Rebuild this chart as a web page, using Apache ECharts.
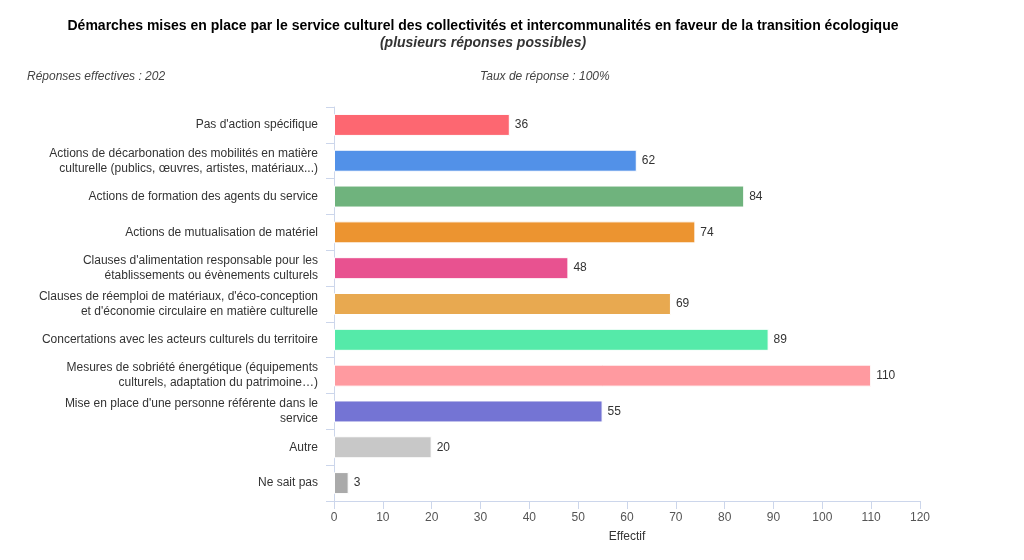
<!DOCTYPE html>
<html>
<head>
<meta charset="utf-8">
<script src="https://cdn.jsdelivr.net/npm/echarts@6/dist/echarts.min.js"></script>
<style>
  html, body { margin: 0; padding: 0; background: #fff; }
  #main { width: 1024px; height: 560px; }
</style>
</head>
<body>
<div id="main"></div>
<script>
// catégories (avec retours à la ligne comme sur le graphique)
var categories = [
    "Pas d'action spécifique",
    "Actions de décarbonation des mobilités en matière\nculturelle (publics, œuvres, artistes, matériaux...)",
    "Actions de formation des agents du service",
    "Actions de mutualisation de matériel",
    "Clauses d'alimentation responsable pour les\nétablissements ou évènements culturels",
    "Clauses de réemploi de matériaux, d'éco-conception\net d'économie circulaire en matière culturelle",
    "Concertations avec les acteurs culturels du territoire",
    "Mesures de sobriété énergétique (équipements\nculturels, adaptation du patrimoine…)",
    "Mise en place d'une personne référente dans le\nservice",
    "Autre",
    "Ne sait pas"
]
var effectifs = [36, 62, 84, 74, 48, 69, 89, 110, 55, 20, 3]
var couleurs = ['#fd6771', '#5291e8', '#6fb37d', '#ec9430', '#e85290', '#e8a950',
    '#55eaa9', '#ff9aa0', '#7474d4', '#c8c8c8', '#aaaaaa']
var xTicks = [0, 120, 10]  // min, max, intervalle

var myChart = echarts.init(document.getElementById('main'))

var option = {
    backgroundColor: '#fff',
    textStyle: { fontFamily: 'Liberation Sans, Arial, sans-serif' },
    title: [
        {
            text: 'Démarches mises en place par le service culturel des collectivités et intercommunalités en faveur de la transition écologique',
            left: 478, top: 14, textAlign: 'center',
            textStyle: { fontSize: 14, fontWeight: 'bold', color: '#000' }
        },
        {
            text: '(plusieurs réponses possibles)',
            left: 478, top: 31, textAlign: 'center',
            textStyle: { fontSize: 14, fontWeight: 'bold', fontStyle: 'italic', color: '#333' }
        },
        {
            text: 'Réponses effectives : 202',
            left: 22, top: 66,
            textStyle: { fontSize: 12, fontWeight: 'normal', fontStyle: 'italic', color: '#444' }
        },
        {
            text: 'Taux de réponse : 100%',
            left: 475, top: 66,
            textStyle: { fontSize: 12, fontWeight: 'normal', fontStyle: 'italic', color: '#444' }
        }
    ],
    grid: { left: 334, right: 104, top: 107, bottom: 59 },
    xAxis: {
        type: 'value',
        min: xTicks[0], max: xTicks[1], interval: xTicks[2],
        name: 'Effectif', nameLocation: 'middle', nameGap: 30,
        nameTextStyle: { fontSize: 12, color: '#333' },
        axisLine: { show: true, lineStyle: { color: '#ccd6eb' } },
        axisTick: { show: true, length: 8, lineStyle: { color: '#ccd6eb' } },
        axisLabel: { fontSize: 12, color: '#555', margin: 11 },
        splitLine: { show: false }
    },
    yAxis: {
        type: 'category',
        data: categories,
        inverse: true,
        axisLine: { show: true, lineStyle: { color: '#ccd6eb' } },
        axisTick: { show: true, length: 8, lineStyle: { color: '#ccd6eb' } },
        axisLabel: { fontSize: 12, color: '#333', margin: 16, lineHeight: 15, align: 'right' }
    },
    series: [{
        type: 'bar',
        barWidth: 22,
        data: effectifs.map(function (v, i) {
            return { value: v, itemStyle: { color: couleurs[i] } }
        }),
        itemStyle: { borderColor: '#fff', borderWidth: 1 },
        label: { show: true, position: 'right', distance: 5, fontSize: 12, color: '#333' }
    }]
}

myChart.setOption(option)
</script>
</body>
</html>
